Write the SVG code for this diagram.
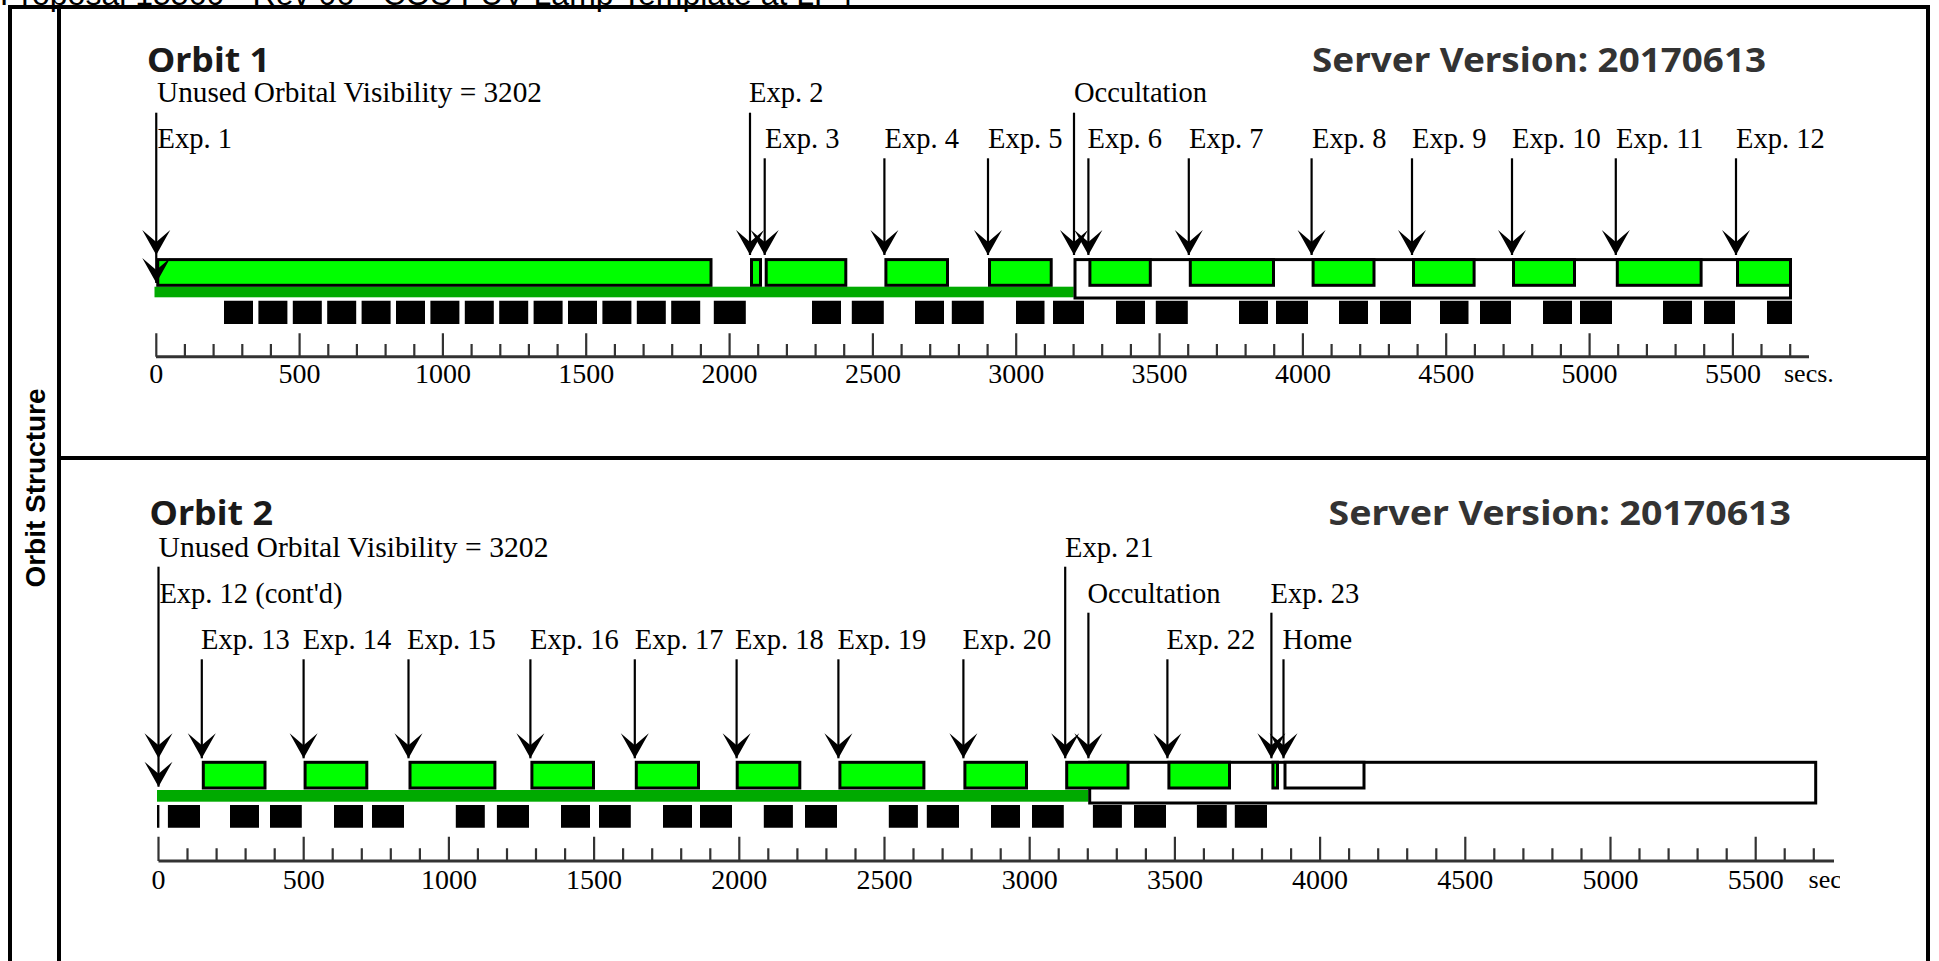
<svg xmlns="http://www.w3.org/2000/svg" width="1939" height="961" viewBox="0 0 1939 961">
<style>
.frame{stroke:#000;stroke-width:4;fill:none}
.lbl{font-family:"Liberation Serif","Times New Roman",serif;font-size:28.5px;fill:#000}
.tk{font-family:"Liberation Serif","Times New Roman",serif;font-size:28px;fill:#000;text-anchor:middle}
.unit{font-family:"Liberation Serif","Times New Roman",serif;font-size:26px;fill:#000}
.title{font-family:"Noto Sans","DejaVu Sans",sans-serif;font-weight:bold;font-size:34px;fill:#1a1a1a}
.srv{font-family:"Noto Sans","DejaVu Sans",sans-serif;font-weight:bold;font-size:34px;fill:#333}
.side{font-family:"Liberation Sans",Arial,sans-serif;font-weight:bold;font-size:28px;fill:#000;text-anchor:middle}
.hdr{font-family:"Liberation Sans",Arial,sans-serif;font-size:32px;fill:#000}
.exp{fill:#00ff00;stroke:#000;stroke-width:3}
.wbox{fill:#fff;stroke:#000;stroke-width:3}
.vis{fill:#00aa00}
.blk{fill:#000}
.axis{stroke:#333;stroke-width:3;fill:none}
.tick{stroke:#333;stroke-width:2.2;fill:none}
.ar{stroke:#000;stroke-width:2.2;fill:none;marker-end:url(#ah)}
.ar2{stroke:#000;stroke-width:2.2;fill:none;marker-mid:url(#ah);marker-end:url(#ah)}
</style>
<defs>
<marker id="ah" markerUnits="userSpaceOnUse" orient="auto" viewBox="-27 -15 29 30" refX="0" refY="0" markerWidth="29" markerHeight="30">
<path d="M0,0 L-25,-14 L-13,0 L-25,14 Z" fill="#000"/>
</marker>
<clipPath id="clip2"><rect x="0" y="460" width="1840" height="501"/></clipPath>
</defs>
<rect width="1939" height="961" fill="#fff"/>

<g id="header">
<text class="hdr" x="0" y="5">Proposal 15560 - Rev 06 - COS FUV Lamp Template at LP4</text>
</g>

<g id="frame">
<line class="frame" x1="8" y1="7" x2="1930" y2="7"/>
<line class="frame" x1="10" y1="7" x2="10" y2="961"/>
<line class="frame" x1="59" y1="7" x2="59" y2="961"/>
<line class="frame" x1="1928" y1="7" x2="1928" y2="961"/>
<line class="frame" x1="59" y1="458" x2="1928" y2="458"/>
<text class="side" transform="translate(45,488) rotate(-90)">Orbit Structure</text>
</g>

<!-- ORBIT 1 -->
<g id="orbit1">
<g id="o1-head">
<text class="title" x="147" y="72" textLength="123" lengthAdjust="spacingAndGlyphs">Orbit 1</text>
<text class="srv" x="1312" y="72" textLength="454" lengthAdjust="spacingAndGlyphs">Server Version: 20170613</text>
<text class="lbl" x="157" y="101.7" textLength="385" lengthAdjust="spacingAndGlyphs">Unused Orbital Visibility = 3202</text>
</g>
<rect class="vis" x="154.5" y="286.7" width="919.2" height="10.6"/>
<g id="o1-occ">
<rect class="wbox" x="1075" y="259.6" width="715.5" height="38.4"/>
<text class="lbl" x="1074" y="101.7">Occultation</text>
</g>
<g id="o1-exp1"><rect class="exp" x="157.75" y="259.6" width="553.25" height="25.7"/><text class="lbl" x="157.5" y="148">Exp. 1</text></g>
<g id="o1-exp2"><rect class="exp" x="751.5" y="259.6" width="9" height="25.7"/><text class="lbl" x="749" y="101.7">Exp. 2</text></g>
<g id="o1-exp3"><rect class="exp" x="766.2" y="259.6" width="79.6" height="25.7"/><text class="lbl" x="765" y="148">Exp. 3</text></g>
<g id="o1-exp4"><rect class="exp" x="885.9" y="259.6" width="61.6" height="25.7"/><text class="lbl" x="884.5" y="148">Exp. 4</text></g>
<g id="o1-exp5"><rect class="exp" x="989.5" y="259.6" width="61.7" height="25.7"/><text class="lbl" x="988" y="148">Exp. 5</text></g>
<g id="o1-exp6"><rect class="exp" x="1089.9" y="259.6" width="60.4" height="25.7"/><text class="lbl" x="1087.5" y="148">Exp. 6</text></g>
<g id="o1-exp7"><rect class="exp" x="1190.3" y="259.6" width="83.2" height="25.7"/><text class="lbl" x="1189" y="148">Exp. 7</text></g>
<g id="o1-exp8"><rect class="exp" x="1313.1" y="259.6" width="60.9" height="25.7"/><text class="lbl" x="1312" y="148">Exp. 8</text></g>
<g id="o1-exp9"><rect class="exp" x="1413.5" y="259.6" width="60.6" height="25.7"/><text class="lbl" x="1412" y="148">Exp. 9</text></g>
<g id="o1-exp10"><rect class="exp" x="1513.5" y="259.6" width="61" height="25.7"/><text class="lbl" x="1512" y="148">Exp. 10</text></g>
<g id="o1-exp11"><rect class="exp" x="1617.3" y="259.6" width="83.8" height="25.7"/><text class="lbl" x="1616" y="148">Exp. 11</text></g>
<g id="o1-exp12"><rect class="exp" x="1737.5" y="259.6" width="53" height="25.7"/><text class="lbl" x="1736" y="148">Exp. 12</text></g>
<path class="blk" d="M224,300.7h29v23.3h-29z M258.4,300.7h29v23.3h-29z M292.8,300.7h29v23.3h-29z M327.2,300.7h29v23.3h-29z M361.6,300.7h29v23.3h-29z M396,300.7h29v23.3h-29z M430.4,300.7h29v23.3h-29z M464.8,300.7h29v23.3h-29z M499.2,300.7h29v23.3h-29z M533.6,300.7h29v23.3h-29z M568,300.7h29v23.3h-29z M602.4,300.7h29v23.3h-29z M636.8,300.7h29v23.3h-29z M671.2,300.7h29v23.3h-29z M713.8,300.7h32v23.3h-32z M812,300.7h29v23.3h-29z M851.8,300.7h32v23.3h-32z M915,300.7h29v23.3h-29z M951.8,300.7h32v23.3h-32z M1016,300.7h28.5v23.3h-28.5z M1053,300.7h31v23.3h-31z M1116,300.7h29v23.3h-29z M1155.8,300.7h32v23.3h-32z M1239,300.7h29v23.3h-29z M1276,300.7h32v23.3h-32z M1339,300.7h29v23.3h-29z M1380,300.7h31v23.3h-31z M1440,300.7h28.5v23.3h-28.5z M1480,300.7h31v23.3h-31z M1543,300.7h29v23.3h-29z M1580,300.7h32v23.3h-32z M1663,300.7h29v23.3h-29z M1704,300.7h31v23.3h-31z M1767,300.7h25v23.3h-25z"/>
<g id="o1-axis">
<line class="axis" x1="156" y1="356.7" x2="1809" y2="356.7"/>
<path class="tick" d="M156.3,333.3v23.4M299.6,333.3v23.4M442.9,333.3v23.4M586.2,333.3v23.4M729.6,333.3v23.4M872.9,333.3v23.4M1016.2,333.3v23.4M1159.6,333.3v23.4M1302.9,333.3v23.4M1446.2,333.3v23.4M1589.6,333.3v23.4M1732.9,333.3v23.4"/>
<path class="tick" d="M184.9,344v12.7M213.6,344v12.7M242.3,344v12.7M270.9,344v12.7M328.3,344v12.7M356.9,344v12.7M385.6,344v12.7M414.3,344v12.7M471.6,344v12.7M500.3,344v12.7M528.9,344v12.7M557.6,344v12.7M614.9,344v12.7M643.6,344v12.7M672.2,344v12.7M700.9,344v12.7M758.2,344v12.7M786.9,344v12.7M815.6,344v12.7M844.2,344v12.7M901.6,344v12.7M930.2,344v12.7M958.9,344v12.7M987.6,344v12.7M1044.9,344v12.7M1073.6,344v12.7M1102.2,344v12.7M1130.9,344v12.7M1188.2,344v12.7M1216.9,344v12.7M1245.6,344v12.7M1274.2,344v12.7M1331.6,344v12.7M1360.2,344v12.7M1388.9,344v12.7M1417.6,344v12.7M1474.9,344v12.7M1503.6,344v12.7M1532.2,344v12.7M1560.9,344v12.7M1618.2,344v12.7M1646.9,344v12.7M1675.6,344v12.7M1704.2,344v12.7M1761.5,344v12.7M1790.2,344v12.7"/>
<text class="tk" x="156.3" y="383">0</text>
<text class="tk" x="299.6" y="383">500</text>
<text class="tk" x="442.9" y="383">1000</text>
<text class="tk" x="586.2" y="383">1500</text>
<text class="tk" x="729.6" y="383">2000</text>
<text class="tk" x="872.9" y="383">2500</text>
<text class="tk" x="1016.2" y="383">3000</text>
<text class="tk" x="1159.6" y="383">3500</text>
<text class="tk" x="1302.9" y="383">4000</text>
<text class="tk" x="1446.2" y="383">4500</text>
<text class="tk" x="1589.6" y="383">5000</text>
<text class="tk" x="1732.9" y="383">5500</text>
<text class="unit" x="1784" y="382">secs.</text>
</g>
</g>

<!-- ORBIT 2 -->
<g id="orbit2">
<g id="o2-head">
<text class="title" x="149.6" y="525" textLength="123.4" lengthAdjust="spacingAndGlyphs">Orbit 2</text>
<text class="srv" x="1328.5" y="525" textLength="462.5" lengthAdjust="spacingAndGlyphs">Server Version: 20170613</text>
<text class="lbl" x="158.5" y="556.7" textLength="390" lengthAdjust="spacingAndGlyphs">Unused Orbital Visibility = 3202</text>
</g>
<rect class="vis" x="157" y="790" width="931.4" height="11.7"/>
<g id="o2-occ">
<rect class="wbox" x="1089.7" y="762.3" width="726" height="40.7"/>
<text class="lbl" x="1087.5" y="603.3">Occultation</text>
</g>
<g id="o2-exp12"><text class="lbl" x="159.4" y="603.3">Exp. 12 (cont'd)</text></g>
<g id="o2-exp13"><rect class="exp" x="203.3" y="762.3" width="61.7" height="25.7"/><text class="lbl" x="201" y="649.3">Exp. 13</text></g>
<g id="o2-exp14"><rect class="exp" x="305.1" y="762.3" width="61.7" height="25.7"/><text class="lbl" x="302.7" y="649.3">Exp. 14</text></g>
<g id="o2-exp15"><rect class="exp" x="410" y="762.3" width="84.9" height="25.7"/><text class="lbl" x="407" y="649.3">Exp. 15</text></g>
<g id="o2-exp16"><rect class="exp" x="531.9" y="762.3" width="61.6" height="25.7"/><text class="lbl" x="530" y="649.3">Exp. 16</text></g>
<g id="o2-exp17"><rect class="exp" x="636.3" y="762.3" width="62.2" height="25.7"/><text class="lbl" x="634.8" y="649.3">Exp. 17</text></g>
<g id="o2-exp18"><rect class="exp" x="737.2" y="762.3" width="62.6" height="25.7"/><text class="lbl" x="735" y="649.3">Exp. 18</text></g>
<g id="o2-exp19"><rect class="exp" x="839.9" y="762.3" width="84" height="25.7"/><text class="lbl" x="837.5" y="649.3">Exp. 19</text></g>
<g id="o2-exp20"><rect class="exp" x="964.9" y="762.3" width="61.6" height="25.7"/><text class="lbl" x="962.5" y="649.3">Exp. 20</text></g>
<g id="o2-exp21"><rect class="exp" x="1066.7" y="762.3" width="61.3" height="25.7"/><text class="lbl" x="1065" y="556.7">Exp. 21</text></g>
<g id="o2-exp22"><rect class="exp" x="1168.9" y="762.3" width="60.6" height="25.7"/><text class="lbl" x="1166.5" y="649.3">Exp. 22</text></g>
<g id="o2-exp23"><rect class="exp" x="1272.9" y="762.3" width="4.6" height="25.7"/><text class="lbl" x="1270.5" y="603.3">Exp. 23</text></g>
<g id="o2-home"><rect class="wbox" x="1285" y="762.3" width="79" height="25.7"/><text class="lbl" x="1282.6" y="649.3">Home</text></g>
<path class="blk" d="M157,805h2.4v22.7h-2.4z M167.9,805h32.1v22.7h-32.1z M230,805h29v22.7h-29z M270,805h31.8v22.7h-31.8z M334,805h29v22.7h-29z M372,805h32v22.7h-32z M455.8,805h29v22.7h-29z M496.9,805h32.1v22.7h-32.1z M561,805h29v22.7h-29z M599,805h31.8v22.7h-31.8z M663,805h29v22.7h-29z M700,805h32v22.7h-32z M763.8,805h29.1v22.7h-29.1z M805,805h32v22.7h-32z M888.8,805h29.1v22.7h-29.1z M926.8,805h32.2v22.7h-32.2z M991,805h29v22.7h-29z M1032,805h31.8v22.7h-31.8z M1092.9,805h29v22.7h-29z M1134,805h32v22.7h-32z M1196.9,805h29.9v22.7h-29.9z M1234.8,805h32.2v22.7h-32.2z"/>
<g id="o2-axis">
<line class="axis" x1="158.5" y1="861" x2="1834" y2="861"/>
<path class="tick" d="M158.5,836.7v24.3M303.7,836.7v24.3M448.9,836.7v24.3M594.1,836.7v24.3M739.3,836.7v24.3M884.5,836.7v24.3M1029.7,836.7v24.3M1174.9,836.7v24.3M1320.1,836.7v24.3M1465.3,836.7v24.3M1610.5,836.7v24.3M1755.7,836.7v24.3"/>
<path class="tick" d="M187.5,848.3v12.7M216.6,848.3v12.7M245.6,848.3v12.7M274.7,848.3v12.7M332.7,848.3v12.7M361.8,848.3v12.7M390.8,848.3v12.7M419.9,848.3v12.7M477.9,848.3v12.7M507,848.3v12.7M536,848.3v12.7M565.1,848.3v12.7M623.1,848.3v12.7M652.2,848.3v12.7M681.2,848.3v12.7M710.3,848.3v12.7M768.3,848.3v12.7M797.4,848.3v12.7M826.4,848.3v12.7M855.5,848.3v12.7M913.5,848.3v12.7M942.6,848.3v12.7M971.6,848.3v12.7M1000.7,848.3v12.7M1058.7,848.3v12.7M1087.8,848.3v12.7M1116.8,848.3v12.7M1145.9,848.3v12.7M1203.9,848.3v12.7M1233,848.3v12.7M1262,848.3v12.7M1291.1,848.3v12.7M1349.1,848.3v12.7M1378.2,848.3v12.7M1407.2,848.3v12.7M1436.3,848.3v12.7M1494.3,848.3v12.7M1523.4,848.3v12.7M1552.4,848.3v12.7M1581.5,848.3v12.7M1639.5,848.3v12.7M1668.6,848.3v12.7M1697.6,848.3v12.7M1726.7,848.3v12.7M1784.7,848.3v12.7M1813.8,848.3v12.7"/>
<text class="tk" x="158.5" y="889">0</text>
<text class="tk" x="303.7" y="889">500</text>
<text class="tk" x="448.9" y="889">1000</text>
<text class="tk" x="594.1" y="889">1500</text>
<text class="tk" x="739.3" y="889">2000</text>
<text class="tk" x="884.5" y="889">2500</text>
<text class="tk" x="1029.7" y="889">3000</text>
<text class="tk" x="1174.9" y="889">3500</text>
<text class="tk" x="1320.1" y="889">4000</text>
<text class="tk" x="1465.3" y="889">4500</text>
<text class="tk" x="1610.5" y="889">5000</text>
<text class="tk" x="1755.7" y="889">5500</text>
<text class="unit" x="1808.6" y="888" clip-path="url(#clip2)">sec</text>
</g>
</g>

<g id="connectors">
<polyline class="ar2" points="156.25,112.7 156.25,255 156.25,283"/>
<line class="ar" x1="750" y1="112.7" x2="750" y2="255"/>
<line class="ar" x1="764.7" y1="158.3" x2="764.7" y2="255"/>
<line class="ar" x1="884.4" y1="158.3" x2="884.4" y2="255"/>
<line class="ar" x1="988" y1="158.3" x2="988" y2="255"/>
<line class="ar" x1="1074" y1="112.7" x2="1074" y2="255"/>
<line class="ar" x1="1088.4" y1="158.3" x2="1088.4" y2="255"/>
<line class="ar" x1="1188.8" y1="158.3" x2="1188.8" y2="255"/>
<line class="ar" x1="1311.6" y1="158.3" x2="1311.6" y2="255"/>
<line class="ar" x1="1412" y1="158.3" x2="1412" y2="255"/>
<line class="ar" x1="1512" y1="158.3" x2="1512" y2="255"/>
<line class="ar" x1="1615.8" y1="158.3" x2="1615.8" y2="255"/>
<line class="ar" x1="1736" y1="158.3" x2="1736" y2="255"/>

<polyline class="ar2" points="158.5,566.7 158.5,758.3 158.5,786.7"/>
<line class="ar" x1="201.8" y1="659.3" x2="201.8" y2="758.3"/>
<line class="ar" x1="303.6" y1="659.3" x2="303.6" y2="758.3"/>
<line class="ar" x1="408.5" y1="659.3" x2="408.5" y2="758.3"/>
<line class="ar" x1="530.4" y1="659.3" x2="530.4" y2="758.3"/>
<line class="ar" x1="634.8" y1="659.3" x2="634.8" y2="758.3"/>
<line class="ar" x1="736.6" y1="659.3" x2="736.6" y2="758.3"/>
<line class="ar" x1="838.4" y1="659.3" x2="838.4" y2="758.3"/>
<line class="ar" x1="963.4" y1="659.3" x2="963.4" y2="758.3"/>
<line class="ar" x1="1065.2" y1="566.7" x2="1065.2" y2="758.3"/>
<line class="ar" x1="1088.4" y1="612.7" x2="1088.4" y2="758.3"/>
<line class="ar" x1="1167.4" y1="659.3" x2="1167.4" y2="758.3"/>
<line class="ar" x1="1271.4" y1="612.7" x2="1271.4" y2="758.3"/>
<line class="ar" x1="1283.5" y1="659.3" x2="1283.5" y2="758.3"/>
</g>
</svg>
